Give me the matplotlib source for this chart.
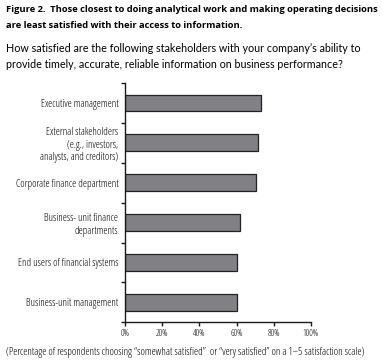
import matplotlib
matplotlib.use("Agg")
import matplotlib.pyplot as plt
from matplotlib import font_manager

# pick a narrow / condensed face if one is installed
FAM, STRETCH = "Liberation Sans", "normal"
_pref = ["Liberation Sans Narrow", "Open Sans", "Noto Sans", "DejaVu Sans", "Roboto", "Lato"]
_found = {}
_names = set()
for f in font_manager.fontManager.ttflist:
    _names.add(f.name)
    if "Narrow" in f.name or "Condensed" in f.name:
        _found.setdefault(f.name, "normal")
    elif f.stretch in ("condensed", "semi-condensed", 'extra-condensed') and f.style == "normal":
        _found.setdefault(f.name, f.stretch)
for p in _pref:
    if p in _found:
        FAM, STRETCH = p, _found[p]
        break
else:
    if _found:
        FAM, STRETCH = sorted(_found.items())[0]
plt.rcParams['font.family'] = [FAM, 'DejaVu Sans']
plt.rcParams['font.stretch'] = STRETCH
SUBFAM = "Lato" if "Lato" in _names else "Liberation Sans"

categories = [
    "Executive management",
    "External stakeholders\n(e.g., investors,\nanalysts, and creditors)",
    "Corporate finance department",
    "Business- unit finance\ndepartments",
    "End users of financial systems",
    "Business-unit management",
]
values = [73, 71.5, 70.5, 62, 60, 60]
xticks = [0, 20, 40, 60, 80, 100]
xticklabels = ["0%", "20%", "40%", "60%", "80%", "100%"]

title_lines = [
    "Figure 2.  Those closest to doing analytical work and making operating decisions",
    "are least satisfied with their access to information.",
]
subtitle_lines = [
    "How satisfied are the following stakeholders with your company\u2019s ability to",
    "provide timely, accurate, reliable information on business performance?",
]
footnote = "(Percentage of respondents choosing \u201csomewhat satisfied\u201d  or \u201cvery satisfied\u201d on a 1\u20135 satisfaction scale)"

W, H = 382, 364
fig = plt.figure(figsize=(W / 100, H / 100), dpi=100)
ax = fig.add_axes([125.3 / W, 1 - 322.3 / H, 185.4 / W, 239.3 / H])
renderer = fig.canvas.get_renderer()


def fit(txt, target_px, max_size=14):
    w = txt.get_window_extent(renderer).width
    s = min(txt.get_fontsize() * target_px / w, max_size)
    txt.set_fontsize(s)
    return s


ypos = list(range(len(categories)))
ax.barh(ypos, values, height=0.42, color="#808085", edgecolor="#222222", linewidth=0.9)
ax.set_xlim(0, 100)
ax.set_ylim(len(categories) - 0.5, -0.5)
ax.set_xticks(xticks)
ax.set_xticklabels(xticklabels, fontsize=6)
ax.set_yticks(ypos)
ax.set_yticklabels(categories, fontsize=6.5, ha="right", multialignment="right")
ax.tick_params(axis="y", length=0, pad=5)
ax.set_yticks([i - 0.5 for i in range(len(categories) + 1)], minor=True)
ax.tick_params(axis="y", which="minor", length=3, width=1, color="#1a1a1a")
ax.tick_params(axis="x", length=3, width=1, color="#1a1a1a", pad=2)
for s in ["top", "right"]:
    ax.spines[s].set_visible(False)
for s in ["left", "bottom"]:
    ax.spines[s].set_linewidth(1)
    ax.spines[s].set_color("#1a1a1a")

# size labels to match reference widths
ylabs = ax.get_yticklabels()
ys = fit(ylabs[2], 110, 7.5)
for t in ylabs:
    t.set_fontsize(ys)
xlabs = ax.get_xticklabels()
xs = fit(xlabs[-1], 20, 6.5)
for t in xlabs:
    t.set_fontsize(xs)

t1 = fig.text(6 / W, 1 - 9 / H, title_lines[0], fontsize=8.6, fontweight="bold", va="center", ha="left")
ts = fit(t1, 371)
fig.text(6 / W, 1 - 25 / H, title_lines[1], fontsize=ts, fontweight="bold", va="center", ha="left")
s1 = fig.text(6 / W, 1 - 49 / H, subtitle_lines[0], fontsize=8.6, va="center", ha="left",
              family=[SUBFAM, "DejaVu Sans"], fontstretch="normal")
ss = fit(s1, 355)
fig.text(6 / W, 1 - 65 / H, subtitle_lines[1], fontsize=ss, va="center", ha="left",
         family=[SUBFAM, "DejaVu Sans"], fontstretch="normal")
fn = fig.text(185.5 / W, 1 - 353 / H, footnote, fontsize=6, va="center", ha="center")
fit(fn, 364)

fig.savefig("out.png", dpi=100)
